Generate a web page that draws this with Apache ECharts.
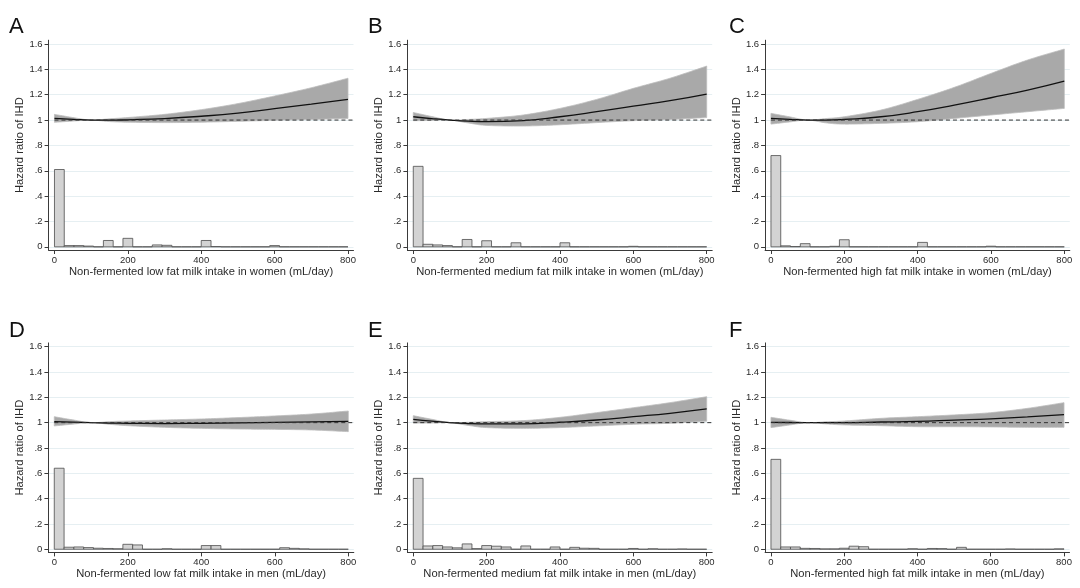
<!DOCTYPE html>
<html><head><meta charset="utf-8">
<script src="https://cdn.jsdelivr.net/npm/echarts@6/dist/echarts.min.js"></script>
<style>html,body{margin:0;padding:0;background:#fff}#c{width:1080px;height:588px}</style>
</head><body><div id="c"></div>
<script>
// ---------------- DATA ----------------
const panelLetters = ['A', 'B', 'C', 'D', 'E', 'F'];
const xTitles = [
  'Non-fermented low fat milk intake in women (mL/day)',
  'Non-fermented medium fat milk intake in women (mL/day)',
  'Non-fermented high fat milk intake in women (mL/day)',
  'Non-fermented low fat milk intake in men (mL/day)',
  'Non-fermented medium fat milk intake in men (mL/day)',
  'Non-fermented high fat milk intake in men (mL/day)'
];
const yTitle = 'Hazard ratio of IHD';
const xTickValues = [0, 200, 400, 600, 800];
const yTickValues = [0, 0.2, 0.4, 0.6, 0.8, 1, 1.2, 1.4, 1.6];
const yTickLabels = ['0', '.2', '.4', '.6', '.8', '1', '1.2', '1.4', '1.6'];

// spline curve sample points (mL/day)
const curveX = [0, 50, 100, 150, 200, 300, 400, 500, 600, 700, 800];

const hrA = [1.013, 1.006, 1.0, 0.999, 1.002, 1.012, 1.03, 1.055, 1.09, 1.125, 1.163];
const upA = [1.045, 1.02, 1.0, 1.01, 1.02, 1.045, 1.082, 1.13, 1.19, 1.255, 1.33];
const loA = [0.982, 0.992, 1.0, 0.988, 0.983, 0.98, 0.983, 0.99, 0.998, 1.005, 1.013];

const hrB = [1.026, 1.012, 1.0, 0.991, 0.987, 0.995, 1.026, 1.066, 1.11, 1.153, 1.205];
const upB = [1.06, 1.028, 1.0, 1.005, 1.013, 1.04, 1.092, 1.163, 1.25, 1.33, 1.426];
const loB = [0.995, 0.997, 1.0, 0.977, 0.958, 0.953, 0.963, 0.98, 0.995, 1.005, 1.02];

const hrC = [1.013, 1.006, 1.0, 1.0, 1.005, 1.026, 1.066, 1.118, 1.176, 1.237, 1.308];
const upC = [1.053, 1.026, 1.0, 1.012, 1.026, 1.079, 1.163, 1.258, 1.368, 1.474, 1.56];
const loC = [0.968, 0.985, 1.0, 0.978, 0.968, 0.974, 0.987, 1.013, 1.04, 1.066, 1.092];

const hrD = [1.008, 1.004, 1.0, 0.997, 0.995, 0.993, 0.995, 0.998, 1.002, 1.006, 1.01];
const upD = [1.047, 1.022, 1.0, 1.008, 1.013, 1.021, 1.029, 1.04, 1.053, 1.068, 1.092];
const loD = [0.974, 0.988, 1.0, 0.987, 0.976, 0.963, 0.955, 0.95, 0.947, 0.942, 0.929];

const hrE = [1.026, 1.012, 1.0, 0.993, 0.99, 0.99, 1.003, 1.021, 1.047, 1.074, 1.108];
const upE = [1.055, 1.027, 1.0, 1.003, 1.008, 1.016, 1.042, 1.079, 1.118, 1.158, 1.205];
const loE = [0.997, 0.997, 1.0, 0.978, 0.961, 0.955, 0.961, 0.974, 0.987, 0.995, 1.012];

const hrF = [1.002, 1.001, 1.0, 1.0, 1.0, 1.005, 1.01, 1.02, 1.03, 1.045, 1.063];
const upF = [1.042, 1.02, 1.0, 1.007, 1.013, 1.034, 1.047, 1.061, 1.079, 1.113, 1.158];
const loF = [0.961, 0.981, 1.0, 0.99, 0.982, 0.976, 0.968, 0.968, 0.966, 0.963, 0.963];

// reference line HR = 1
const refX = [0, 815];
const refY = [1, 1];

// histogram: 30 bins of equal width over 0-800 mL/day (fraction)
const histBinCount = 30;
const histRange = [0, 800];
const histA = [0.61, 0.01, 0.01, 0.006, 0, 0.05, 0, 0.067, 0, 0, 0.015, 0.012, 0, 0, 0, 0.05, 0.002, 0, 0, 0, 0, 0, 0.01, 0, 0, 0, 0, 0, 0, 0];
const histB = [0.635, 0.02, 0.015, 0.01, 0, 0.058, 0, 0.048, 0, 0, 0.032, 0, 0, 0, 0, 0.032, 0, 0, 0, 0, 0, 0, 0.004, 0, 0, 0, 0, 0, 0, 0];
const histC = [0.72, 0.008, 0.002, 0.025, 0, 0, 0.004, 0.056, 0, 0, 0, 0, 0, 0, 0, 0.035, 0, 0, 0, 0, 0, 0, 0.005, 0, 0, 0, 0, 0, 0, 0];
const histD = [0.64, 0.016, 0.018, 0.013, 0.008, 0.006, 0.004, 0.039, 0.034, 0, 0, 0.004, 0, 0, 0, 0.029, 0.029, 0, 0, 0, 0, 0, 0, 0.012, 0.007, 0.003, 0, 0, 0, 0];
const histE = [0.56, 0.026, 0.029, 0.018, 0.011, 0.042, 0.005, 0.029, 0.024, 0.018, 0, 0.026, 0, 0, 0.018, 0, 0.015, 0.008, 0.007, 0, 0, 0, 0.006, 0, 0.004, 0, 0, 0.002, 0, 0];
const histF = [0.71, 0.018, 0.018, 0.007, 0.006, 0.003, 0.003, 0.008, 0.024, 0.02, 0, 0, 0, 0, 0.004, 0, 0.006, 0.005, 0, 0.015, 0, 0, 0, 0, 0.002, 0, 0, 0, 0, 0.003];

// ---------------- LAYOUT ----------------
const panels = [
  {hr: hrA, up: upA, lo: loA, hist: histA},
  {hr: hrB, up: upB, lo: loB, hist: histB},
  {hr: hrC, up: upC, lo: loC, hist: histC},
  {hr: hrD, up: upD, lo: loD, hist: histD},
  {hr: hrE, up: upE, lo: loE, hist: histE},
  {hr: hrF, up: upF, lo: loF, hist: histF}
];
const gridPos = [
  {left: 48.6, top: 40.2, width: 304.9, height: 209.8},
  {left: 407.4, top: 40.2, width: 304.8, height: 209.8},
  {left: 765.1, top: 40.2, width: 304.7, height: 209.8},
  {left: 48.4, top: 342.9, width: 305.4, height: 209.5},
  {left: 407.4, top: 342.9, width: 304.8, height: 209.5},
  {left: 765.1, top: 342.9, width: 304.4, height: 209.5}
];
const letterPos = [[9, 16], [368, 16], [729, 16], [9, 320], [368, 320], [729, 320]];

const FONT = '"Liberation Sans", Arial, Helvetica, sans-serif';
const AXIS_COLOR = '#3a3a3a';
const TEXT_COLOR = '#2a2a2a';

// smooth pixel path (Catmull-Rom sampled) for drawing only
function smoothPixels(pts, steps) {
  const out = [];
  for (let k = 0; k < pts.length - 1; k++) {
    const p0 = pts[Math.max(0, k - 1)], p1 = pts[k], p2 = pts[k + 1], p3 = pts[Math.min(pts.length - 1, k + 2)];
    for (let s = 0; s < steps; s++) {
      const t = s / steps, t2 = t * t, t3 = t2 * t;
      const f = (a, b, c, d) => 0.5 * ((2 * b) + (-a + c) * t + (2 * a - 5 * b + 4 * c - d) * t2 + (-a + 3 * b - 3 * c + d) * t3);
      out.push([f(p0[0], p1[0], p2[0], p3[0]), f(p0[1], p1[1], p2[1], p3[1])]);
    }
  }
  out.push(pts[pts.length - 1]);
  return out;
}

const grids = [], xAxes = [], yAxes = [], series = [], graphics = [];

panels.forEach((p, i) => {
  grids.push(Object.assign({containLabel: false}, gridPos[i]));
  xAxes.push({
    type: 'value', gridIndex: i, min: -16, max: 815,
    name: xTitles[i], nameLocation: 'middle', nameGap: 16,
    nameTextStyle: {fontFamily: FONT, fontSize: 11.2, color: TEXT_COLOR},
    axisLine: {show: true, onZero: false, lineStyle: {color: AXIS_COLOR, width: 1}},
    axisTick: {show: true, length: 4, customValues: xTickValues, lineStyle: {color: AXIS_COLOR}},
    axisLabel: {customValues: xTickValues, margin: 5, fontFamily: FONT, fontSize: 9.5, color: TEXT_COLOR},
    splitLine: {show: false}
  });
  yAxes.push({
    type: 'value', gridIndex: i, min: -0.025, max: 1.63,
    name: yTitle, nameLocation: 'middle', nameGap: 20, nameRotate: 90,
    nameTextStyle: {fontFamily: FONT, fontSize: 11.2, color: TEXT_COLOR},
    axisLine: {show: true, onZero: false, lineStyle: {color: AXIS_COLOR, width: 1}},
    axisTick: {show: true, length: 4, customValues: yTickValues, lineStyle: {color: AXIS_COLOR}},
    axisLabel: {
      customValues: yTickValues, margin: 6, fontFamily: FONT, fontSize: 9.5, color: TEXT_COLOR,
      formatter: v => { const k = yTickValues.findIndex(t => Math.abs(t - v) < 1e-9); return k >= 0 ? yTickLabels[k] : ''; }
    },
    splitLine: {show: true, lineStyle: {color: '#e6eff2', width: 1}}
  });

  // histogram
  const bw = (histRange[1] - histRange[0]) / histBinCount;
  const hdata = p.hist.map((h, k) => [histRange[0] + k * bw, histRange[0] + (k + 1) * bw, h]);
  series.push({
    type: 'custom', xAxisIndex: i, yAxisIndex: i, data: hdata, silent: true, z: 2,
    encode: {x: [0, 1], y: 2},
    renderItem: (params, api) => {
      const a = api.coord([api.value(0), api.value(2)]);
      const b = api.coord([api.value(1), 0]);
      return {type: 'rect', shape: {x: a[0], y: a[1], width: b[0] - a[0], height: b[1] - a[1]},
        style: {fill: '#d3d3d3', stroke: '#4d4d4d', lineWidth: 0.8}};
    }
  });

  // CI band as one polygon through the axis scales
  const bandData = curveX.map((x, k) => [x, p.lo[k], p.up[k]]);
  series.push({
    type: 'custom', xAxisIndex: i, yAxisIndex: i, data: bandData, silent: true, z: 3,
    encode: {x: 0, y: [1, 2]},
    renderItem: (params, api) => {
      if (params.dataIndex !== 0) return null;
      const upPx = bandData.map(d => api.coord([d[0], d[2]]));
      const loPx = bandData.map(d => api.coord([d[0], d[1]]));
      const upS = smoothPixels(upPx, 12);
      const loS = smoothPixels(loPx, 12).reverse();
      return {type: 'polygon', shape: {points: upS.concat(loS)},
        style: {fill: '#a9a9a9', stroke: '#bdbdbd', lineWidth: 0.8}};
    }
  });
  // HR line
  series.push({
    type: 'line', xAxisIndex: i, yAxisIndex: i, smooth: true, symbol: 'none', silent: true, z: 4,
    data: curveX.map((x, k) => [x, p.hr[k]]),
    lineStyle: {color: '#111111', width: 1.3}
  });
  // reference line
  series.push({
    type: 'line', xAxisIndex: i, yAxisIndex: i, symbol: 'none', silent: true, z: 5,
    data: refX.map((x, k) => [x, refY[k]]),
    lineStyle: {color: '#333333', width: 1, type: [4, 3]}
  });

  graphics.push({
    type: 'text', left: letterPos[i][0], top: letterPos[i][1],
    style: {text: panelLetters[i], font: '22px ' + FONT, fill: '#111'}
  });
});

const chart = echarts.init(document.getElementById('c'), null, {renderer: 'canvas'});
chart.setOption({
  animation: false,
  backgroundColor: '#ffffff',
  grid: grids, xAxis: xAxes, yAxis: yAxes, series: series, graphic: graphics
});
</script>
</body></html>
